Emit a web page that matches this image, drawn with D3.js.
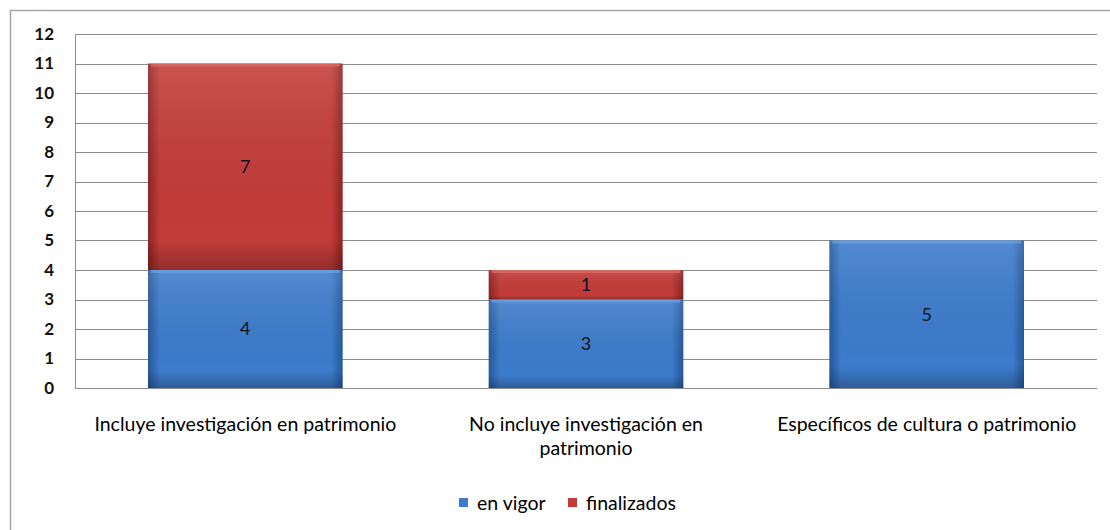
<!DOCTYPE html>
<html>
<head>
<meta charset="utf-8">
<script src="https://cdn.jsdelivr.net/npm/d3@7"></script>
<style>
  body { margin: 0; background: #fff; }
  svg text { font-family: Lato, "Open Sans", sans-serif; }
</style>
</head>
<body>
<script>
var categories = ["Incluye investigación en patrimonio", "No incluye investigación en patrimonio", "Específicos de cultura o patrimonio"];
var catLines = [["Incluye investigación en patrimonio"], ["No incluye investigación en", "patrimonio"], ["Específicos de cultura o patrimonio"]];
var seriesNames = ["en vigor", "finalizados"];
var enVigor = [4, 3, 5];
var finalizados = [7, 1, 0];
var yTicks = [0, 1, 2, 3, 4, 5, 6, 7, 8, 9, 10, 11, 12];

var W = 1110, H = 530;
var margin = {top: 34, left: 75, right: 13, bottom: 142};
var width = W - margin.left - margin.right,
    height = H - margin.top - margin.bottom;

var svg = d3.select("body").append("svg")
    .attr("width", W).attr("height", H);

// outer frame (runs off the right/bottom edge like the original)
svg.append("rect")
    .attr("x", 10.5).attr("y", 10.5)
    .attr("width", W + 10).attr("height", H + 10)
    .attr("fill", "#fff").attr("stroke", "#a6a6a6").attr("stroke-width", 1.5);

var defs = svg.append("defs");
function makeGrad(id, edge, mid) {
  var g = defs.append("linearGradient").attr("id", id)
      .attr("x1", "0").attr("x2", "1").attr("y1", "0").attr("y2", "0");
  g.append("stop").attr("offset", "0").attr("stop-color", edge);
  g.append("stop").attr("offset", "0.06").attr("stop-color", mid);
  g.append("stop").attr("offset", "0.94").attr("stop-color", mid);
  g.append("stop").attr("offset", "1").attr("stop-color", edge);
}
makeGrad("gBlue", "#24599c", "#3d7ccc");
makeGrad("gRed", "#8f2422", "#c33c39");
var shade = defs.append("linearGradient").attr("id", "gShade")
    .attr("x1", "0").attr("x2", "0").attr("y1", "0").attr("y2", "1");
shade.append("stop").attr("offset", "0").attr("stop-color", "#fff").attr("stop-opacity", 0.12);
shade.append("stop").attr("offset", "0.85").attr("stop-color", "#000").attr("stop-opacity", 0.0);
shade.append("stop").attr("offset", "1").attr("stop-color", "#000").attr("stop-opacity", 0.25);

var g = svg.append("g")
    .attr("transform", "translate(" + margin.left + "," + margin.top + ")");

var x = d3.scaleBand().domain(categories).range([0, width])
    .paddingInner(0.4286).paddingOuter(0.2143);
var y = d3.scaleLinear().domain([0, 12]).range([height, 0]);

// gridlines
g.selectAll(".grid").data(yTicks).enter().append("line")
    .attr("x1", 0).attr("x2", width)
    .attr("y1", function(d) { return Math.round(y(d)) + 0.5; })
    .attr("y2", function(d) { return Math.round(y(d)) + 0.5; })
    .attr("stroke", "#8c8c8c").attr("stroke-width", 1);

// y axis
var yAxis = g.append("g")
    .call(d3.axisLeft(y).tickValues(yTicks).tickSize(0).tickPadding(21));
yAxis.select(".domain").attr("stroke", "#8c8c8c");
yAxis.selectAll("text")
    .style("font-size", "17px").style("font-weight", "bold").attr("fill", "#111");

// stacked data
var rows = categories.map(function(c, i) {
  return {cat: c, "en vigor": enVigor[i], "finalizados": finalizados[i]};
});
var stack = d3.stack().keys(seriesNames)(rows);
var fills = {"en vigor": "url(#gBlue)", "finalizados": "url(#gRed)"};
var tops = {"en vigor": "#6aa0e0", "finalizados": "#db6a66"};

stack.forEach(function(layer) {
  var key = layer.key;
  var grp = g.append("g");
  layer.forEach(function(d, i) {
    var v = d[1] - d[0];
    if (v <= 0) return;
    var bx = x(categories[i]), bw = x.bandwidth();
    var by = y(d[1]), bh = y(d[0]) - y(d[1]);
    grp.append("rect").attr("x", bx).attr("y", by).attr("width", bw).attr("height", bh)
        .attr("fill", fills[key]);
    grp.append("rect").attr("x", bx).attr("y", by).attr("width", bw).attr("height", bh)
        .attr("fill", "url(#gShade)");
    // top bevel
    grp.append("rect").attr("x", bx + 3).attr("y", by).attr("width", bw - 6).attr("height", 3)
        .attr("fill", tops[key]).attr("opacity", 0.8);
    grp.append("text")
        .attr("x", bx + bw / 2).attr("y", by + bh / 2)
        .attr("dy", "0.36em").attr("text-anchor", "middle")
        .style("font-size", "18px").attr("fill", "#111322")
        .text(v);
  });
});

// bottom axis line
g.append("line").attr("x1", 0).attr("x2", width)
    .attr("y1", Math.round(height) + 0.5).attr("y2", Math.round(height) + 0.5)
    .attr("stroke", "#8c8c8c");

// category labels
categories.forEach(function(c, i) {
  var t = g.append("text")
      .attr("x", x(c) + x.bandwidth() / 2)
      .attr("y", height + 43)
      .attr("text-anchor", "middle")
      .style("font-size", "19.5px").attr("fill", "#000");
  catLines[i].forEach(function(line, j) {
    t.append("tspan").attr("x", x(c) + x.bandwidth() / 2)
        .attr("dy", j === 0 ? 0 : 24).text(line);
  });
});

// legend
var legend = svg.append("g").attr("transform", "translate(459,503)");
var legX = [0, 109];
seriesNames.forEach(function(s, i) {
  var lg = legend.append("g").attr("transform", "translate(" + legX[i] + ",0)");
  lg.append("rect").attr("x", 0).attr("y", -5).attr("width", 9).attr("height", 9)
      .attr("fill", i === 0 ? "url(#gBlue)" : "url(#gRed)");
  lg.append("text").attr("x", 18).attr("y", 0).attr("dy", "0.36em")
      .style("font-size", "19.5px").attr("fill", "#000").text(s);
});
</script>
</body>
</html>
